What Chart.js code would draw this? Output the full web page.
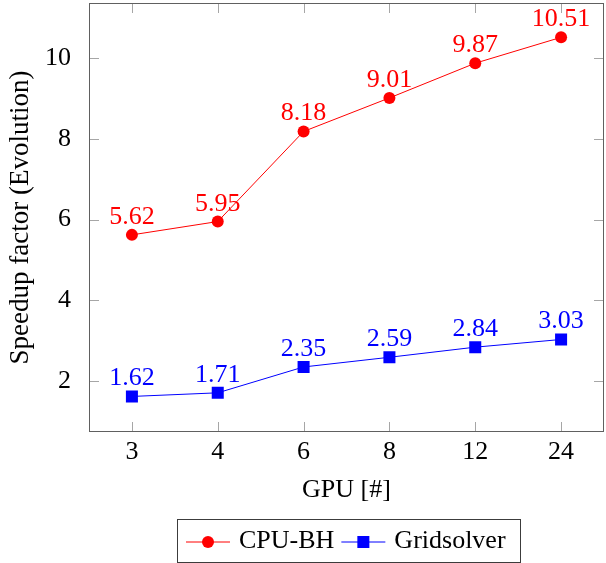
<!DOCTYPE html>
<html>
<head>
<meta charset="utf-8">
<title>Speedup factor (Evolution)</title>
<script src="https://cdn.jsdelivr.net/npm/chart.js@4/dist/chart.umd.min.js"></script>
<style>
  html, body { margin: 0; padding: 0; background: #fff; }
  #speedupChart { display: block; }
</style>
</head>
<body>
<canvas id="speedupChart" width="606" height="563"></canvas>
<script>
/* ── Data ── */
const gpuCounts         = ['3', '4', '6', '8', '12', '24'];
const cpuBhSpeedup      = [5.62, 5.95, 8.18, 9.01, 9.87, 10.51];
const gridsolverSpeedup = [1.62, 1.71, 2.35, 2.59, 2.84, 3.03];
const yTickValues       = [2, 4, 6, 8, 10];

const FONT   = '"Liberation Serif", "Times New Roman", serif';
const FRAME  = '#606060';
const TICK   = '#a6a6a6';

/* ── Frame + inward ticks on all four sides ── */
const framePlugin = {
  id: 'frame',
  afterDatasetsDraw(chart) {
    const { ctx, chartArea: a, scales: { x, y } } = chart;
    const len = 10;
    ctx.save();
    ctx.lineWidth = 1;
    ctx.strokeStyle = TICK;
    ctx.beginPath();
    yTickValues.forEach(v => {
      const py = Math.round(y.getPixelForValue(v)) + 0.5;
      ctx.moveTo(a.left, py);  ctx.lineTo(a.left + len, py);
      ctx.moveTo(a.right, py); ctx.lineTo(a.right - len, py);
    });
    gpuCounts.forEach((_, i) => {
      const px = Math.round(x.getPixelForValue(i)) + 0.5;
      ctx.moveTo(px, a.bottom); ctx.lineTo(px, a.bottom - len);
      ctx.moveTo(px, a.top);    ctx.lineTo(px, a.top + len);
    });
    ctx.stroke();
    ctx.strokeStyle = FRAME;
    ctx.strokeRect(Math.round(a.left) + 0.5, Math.round(a.top) + 0.5,
                   Math.round(a.right - a.left) - 1, Math.round(a.bottom - a.top) - 1);
    ctx.restore();
  },
};

/* ── Value labels sitting just above each point ── */
const valueLabels = {
  id: 'valueLabels',
  afterDatasetsDraw(chart) {
    const { ctx } = chart;
    ctx.save();
    ctx.font = `26px ${FONT}`;
    ctx.textAlign = 'center';
    ctx.textBaseline = 'alphabetic';
    chart.data.datasets.forEach((ds, di) => {
      chart.getDatasetMeta(di).data.forEach((pt, i) => {
        ctx.fillStyle = ds.borderColor;
        ctx.fillText(ds.data[i].toFixed(2), pt.x, pt.y - 11);
      });
    });
    ctx.restore();
  },
};

/* ── Boxed legend under the x axis title ── */
const boxLegend = {
  id: 'boxLegend',
  afterDraw(chart) {
    const { ctx, chartArea: a } = chart;
    ctx.save();
    ctx.font = `26px ${FONT}`;
    ctx.textBaseline = 'middle';
    const lineW = 44, padL = 9, padR = 14, gapText = 9, gapItem = 7;
    const items = chart.data.datasets.map(ds => ({ ds, w: ctx.measureText(ds.label).width }));
    let total = padL + padR;
    items.forEach((it, i) => { total += lineW + gapText + it.w + (i ? gapItem : 0); });
    const boxTop = 519, boxH = 43;
    let bx = Math.round((a.left + a.right) / 2 - total / 2 + 1.5);
    ctx.strokeStyle = '#3c3c3c';
    ctx.lineWidth = 1;
    ctx.strokeRect(bx + 0.5, boxTop + 0.5, Math.round(total), boxH);
    const cy = boxTop + boxH / 2 + 1;
    let cx = bx + padL;
    items.forEach((it, i) => {
      if (i) cx += gapItem;
      const ds = it.ds;
      ctx.strokeStyle = ds.borderColor;
      ctx.fillStyle = ds.borderColor;
      ctx.beginPath();
      ctx.moveTo(cx, cy + 0.5); ctx.lineTo(cx + lineW, cy + 0.5);
      ctx.stroke();
      Chart.helpers.drawPoint(ctx, {
        pointStyle: ds.pointStyle, radius: ds.pointRadius, borderWidth: 0,
      }, cx + lineW / 2, cy + 0.5);
      cx += lineW + gapText;
      ctx.fillStyle = '#000';
      ctx.fillText(ds.label, cx, cy);
      cx += it.w;
    });
    ctx.restore();
  },
};

// drop the label-overflow padding chart.js reserves around each axis
function noScalePadding(s) {
  s.paddingTop = s.paddingBottom = s.paddingLeft = s.paddingRight = 0;
}

/* ── Chart ── */
function initSpeedupChart() {
  const ctx = document.getElementById('speedupChart');
  new Chart(ctx, {
    type: 'line',
    data: {
      labels: gpuCounts,
      datasets: [
        {
          label: 'CPU-BH',
          data: cpuBhSpeedup,
          borderColor: '#ff0000', backgroundColor: '#ff0000',
          borderWidth: 1, pointStyle: 'circle', pointRadius: 6,
          pointBorderWidth: 0, tension: 0,
        },
        {
          label: 'Gridsolver',
          data: gridsolverSpeedup,
          borderColor: '#0000ff', backgroundColor: '#0000ff',
          borderWidth: 1, pointStyle: 'rect', pointRadius: 8.5,
          pointBorderWidth: 0, tension: 0,
        },
      ],
    },
    options: {
      responsive: false, animation: false, devicePixelRatio: 1,
      layout: { autoPadding: false, padding: { top: 3, right: 2, bottom: 56, left: 0 } },
      plugins: { legend: { display: false }, tooltip: { enabled: false } },
      scales: {
        x: {
          offset: true,
          grid: { display: false },
          border: { display: false },
          ticks: { color: '#000', font: { family: FONT, size: 26 }, padding: -3 },
          title: { display: true, text: 'GPU [#]', color: '#000',
                   font: { family: FONT, size: 26 }, padding: { top: 0, bottom: 1 } },
          afterFit: s => { s.height = 75; noScalePadding(s); },
        },
        y: {
          min: 0.74, max: 11.36,
          grid: { display: false },
          border: { display: false },
          afterBuildTicks: s => { s.ticks = yTickValues.map(v => ({ value: v })); },
          ticks: { color: '#000', font: { family: FONT, size: 26 }, padding: 10 },
          title: { display: true, text: 'Speedup factor (Evolution)', color: '#000',
                   font: { family: FONT, size: 27 }, padding: { top: 5, bottom: 0 } },
          afterFit: s => { s.width = 89; noScalePadding(s); },
        },
      },
    },
    plugins: [framePlugin, valueLabels, boxLegend],
  });
}

initSpeedupChart();
</script>
</body>
</html>
